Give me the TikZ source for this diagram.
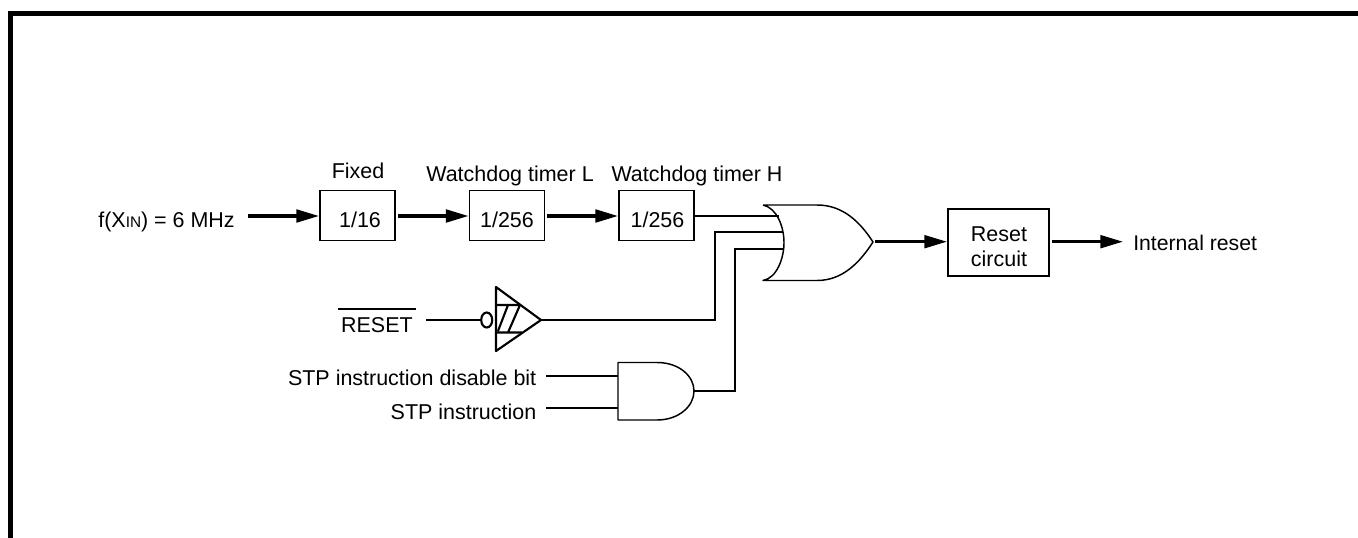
\documentclass[tikz,border=0pt]{standalone}
\usepackage{fontspec}
\setmainfont{Liberation Sans}
\usetikzlibrary{arrows.meta,shapes.geometric}
\tikzset{
  blockbox/.style={draw=black,line width=1pt,minimum width=56.25pt,minimum height=37.5pt,inner sep=0pt},
  lbl/.style={inner sep=0pt,font=\fontsize{16.1pt}{18pt}\selectfont},
  wire/.style={line width=1.75pt},
  sig/.style={line width=2.3pt,-{Triangle[length=17pt,width=9.5pt]}},
  gate/.style={line width=1.1pt,line join=round},
  schmitt/.style={line width=1.6pt,line join=round},
  frame/.style={line width=4pt}
}
\begin{document}
\begin{tikzpicture}[x=0.75pt,y=-0.75pt]
\useasboundingbox (0,0) rectangle (1358,538);
\fill[white] (0,0) rectangle (1358,538);
% outer frame
\coordinate (fa) at (10.5,538);
\coordinate (fb) at (10.5,13.5);
\coordinate (fc) at (1358,13.5);
\draw[frame,miter limit=10] (fa) -- (fb) -- (fc);
% blocks
\node[blockbox] (b1) at (357.5,215.5) {};
\node[blockbox] (b2) at (507,215.5) {};
\node[blockbox] (b3) at (656.5,215.5) {};
\node[blockbox,minimum width=75.75pt,minimum height=50.25pt] (rc) at (998.5,242.5) {};
\node[lbl,anchor=base] (t1) at (360,228) {1/16};
\node[lbl,anchor=base] (t2) at (507,228) {1/256};
\node[lbl,anchor=base] (t3) at (657.5,228) {1/256};
\node[lbl,anchor=base] (t4) at (999,241.7) {Reset};
\node[lbl,anchor=base] (t5) at (999,266) {circuit};
% block labels
\node[lbl,anchor=base] (tf) at (358,179) {Fixed};
\node[lbl,anchor=base] (tl) at (510,181.7) {Watchdog timer L};
\node[lbl,anchor=base] (th) at (697,181.7) {Watchdog timer H};
% texts
\node[lbl,anchor=base east] (fx) at (235,228) {f(X{\fontsize{11.5pt}{14pt}\selectfont IN}) = 6 MHz};
\coordinate (fxo) at (248,216);
\node[lbl,anchor=base east] (rst) at (413,332.7) {RESET};
\coordinate (ol1) at (338,309);
\coordinate (ol2) at (415.5,309);
\draw[line width=1pt] (ol1) -- (ol2);
\node[lbl,anchor=base east] (s1) at (536.5,385) {STP instruction disable bit};
\node[lbl,anchor=base east] (s2) at (536.5,419) {STP instruction};
\node[lbl,anchor=base west,font=\fontsize{15.9pt}{18pt}\selectfont] (ir) at (1133,250) {Internal reset};
% OR gate
\coordinate (orT) at (763,205);
\coordinate (orB) at (763,280.5);
\coordinate (orN) at (873,242);
\draw[gate,fill=white] (orT) -- (817,205) .. controls (843,205) and (860,222) .. (orN)
  .. controls (860,262) and (843,280.5) .. (817,280.5) -- (orB)
  .. controls (777,278) and (784,258) .. (784,242.5) .. controls (784,227) and (777,208) .. (orT);
% AND gate
\coordinate (anTL) at (618,362.5);
\coordinate (anBL) at (618,420);
\coordinate (anN) at (694,391);
\draw[gate,fill=white] (anTL) -- (657,362.5) .. controls (679,362.5) and (694,376) .. (anN)
  .. controls (694,406) and (679,420) .. (657,420) -- (anBL) -- cycle;
% Schmitt buffer
\coordinate (buT) at (496,287);
\coordinate (buB) at (496,351);
\coordinate (buN) at (541,320);
\draw[schmitt] (buT) -- (buN) -- (buB) -- cycle;
\draw[schmitt] (496,305) -- (520,305) (496,332.5) -- (522,332.5)
  (498,331) -- (508,305) (508,332.5) -- (520,305);
\node[draw=black,line width=1.6pt,ellipse,minimum width=8.25pt,minimum height=11.25pt,inner sep=0pt] (bub) at (486.7,320) {};
% junction points
\coordinate (oi1) at (779,216);
\coordinate (oi2) at (783,232);
\coordinate (oi3) at (784,249);
\coordinate (j2a) at (715,232);
\coordinate (j2b) at (715,320);
\coordinate (j3a) at (735,249);
\coordinate (j3b) at (735,391);
\coordinate (ai1s) at (546,376);
\coordinate (ai1) at (618,376);
\coordinate (ai2s) at (546,408);
\coordinate (ai2) at (618,408);
\coordinate (rsto) at (426,320);
\coordinate (a2s) at (398,216);
\coordinate (a2e) at (468.5,216);
\coordinate (a3s) at (547,216);
\coordinate (a3e) at (618,216);
\coordinate (a1e) at (319,216);
\coordinate (a4s) at (875,241.7);
\coordinate (a4e) at (947,241.7);
\coordinate (a5s) at (1052,241.7);
\coordinate (a5e) at (1123,241.7);
% connectors
\draw[sig] (fxo) -- (a1e);
\draw[sig] (a2s) -- (a2e);
\draw[sig] (a3s) -- (a3e);
\draw[wire] (b3.east |- oi1) -- (oi1);
\draw[wire] (oi2) -- (j2a) -- (j2b) -- (buN);
\draw[wire] (oi3) -- (j3a) -- (j3b) -- (anN);
\draw[wire] (rsto) -- (bub.west);
\draw[wire] (ai1s) -- (ai1);
\draw[wire] (ai2s) -- (ai2);
\draw[sig] (a4s) -- (a4e);
\draw[sig] (a5s) -- (a5e);
\end{tikzpicture}
\end{document}
